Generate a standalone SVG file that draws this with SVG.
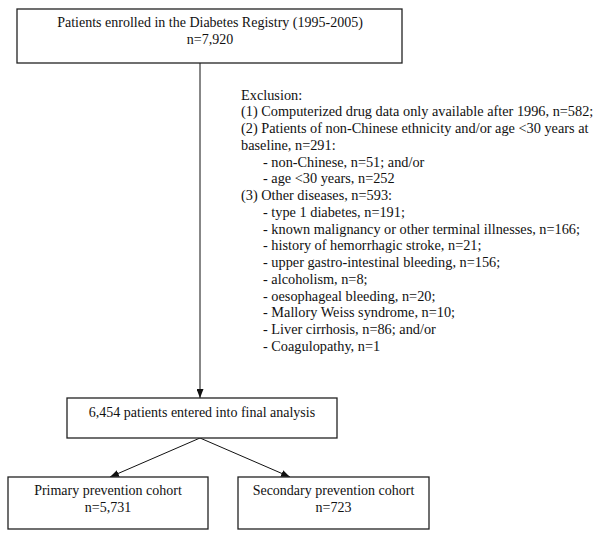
<svg xmlns="http://www.w3.org/2000/svg" width="600" height="542" viewBox="0 0 600 542">
<style>
  .box{fill:#fff;stroke:#222;stroke-width:1.3}
  .t{font-family:"Liberation Serif","Times New Roman",serif;font-size:14px;fill:#111}
  .x{font-size:14.3px}
  .c{text-anchor:middle}
  .ln{stroke:#111;stroke-width:1;fill:none}
</style>
<defs>
  <marker id="ah" markerWidth="9" markerHeight="7" refX="9" refY="3.5" orient="auto" markerUnits="userSpaceOnUse">
    <path d="M0,0 L9,3.5 L0,7 z" fill="#111"/>
  </marker>
</defs>
<rect width="600" height="542" fill="#fff"/>
<g id="connectors">
  <line class="ln" x1="200" y1="63" x2="200" y2="398" marker-end="url(#ah)"/>
  <line class="ln" x1="200" y1="438" x2="110" y2="477" marker-end="url(#ah)"/>
  <line class="ln" x1="200" y1="438" x2="290" y2="477" marker-end="url(#ah)"/>
</g>
<g id="enrolled">
  <rect class="box" x="17" y="9" width="385" height="54"/>
  <text class="t c" x="210" y="27">Patients enrolled in the Diabetes Registry (1995-2005)</text>
  <text class="t c" x="210" y="44">n=7,920</text>
</g>
<g id="exclusion">
  <text class="t x" x="241" y="99.5">Exclusion:</text>
  <text class="t x" x="241" y="116.25">(1) Computerized drug data only available after 1996, n=582;</text>
  <text class="t x" x="241" y="133">(2) Patients of non-Chinese ethnicity and/or age &lt;30 years at</text>
  <text class="t x" x="241" y="149.75">baseline, n=291:</text>
  <text class="t x" x="263" y="166.5">- non-Chinese, n=51; and/or</text>
  <text class="t x" x="263" y="183.25">- age &lt;30 years, n=252</text>
  <text class="t x" x="241" y="200">(3) Other diseases, n=593:</text>
  <text class="t x" x="263" y="216.75">- type 1 diabetes, n=191;</text>
  <text class="t x" x="263" y="233.5">- known malignancy or other terminal illnesses, n=166;</text>
  <text class="t x" x="263" y="250.25">- history of hemorrhagic stroke, n=21;</text>
  <text class="t x" x="263" y="267">- upper gastro-intestinal bleeding, n=156;</text>
  <text class="t x" x="263" y="283.75">- alcoholism, n=8;</text>
  <text class="t x" x="263" y="300.5">- oesophageal bleeding, n=20;</text>
  <text class="t x" x="263" y="317.25">- Mallory Weiss syndrome, n=10;</text>
  <text class="t x" x="263" y="334">- Liver cirrhosis, n=86; and/or</text>
  <text class="t x" x="263" y="350.75">- Coagulopathy, n=1</text>
</g>
<g id="final">
  <rect class="box" x="67" y="398" width="270" height="40"/>
  <text class="t c" x="202" y="417">6,454 patients entered into final analysis</text>
</g>
<g id="primary">
  <rect class="box" x="8" y="477" width="200" height="52"/>
  <text class="t c" x="108" y="495">Primary prevention cohort</text>
  <text class="t c" x="108" y="512">n=5,731</text>
</g>
<g id="secondary">
  <rect class="box" x="238" y="477" width="191" height="52"/>
  <text class="t c" x="333.5" y="495">Secondary prevention cohort</text>
  <text class="t c" x="333.5" y="512">n=723</text>
</g>
</svg>
